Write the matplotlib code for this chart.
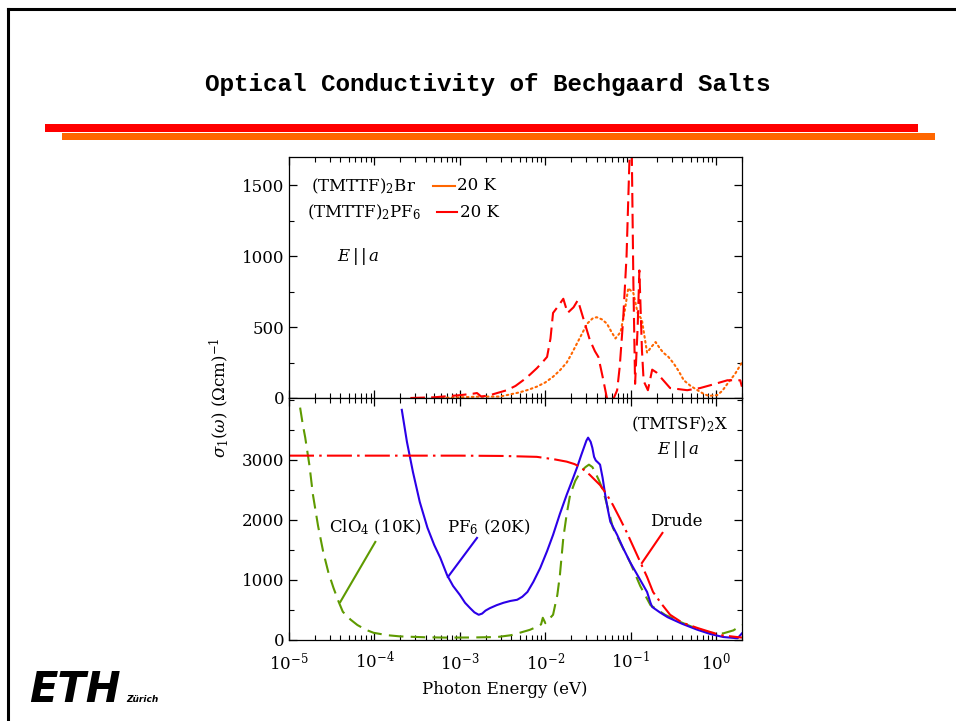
import numpy as np
import matplotlib
matplotlib.use("Agg")
import matplotlib.pyplot as plt
from matplotlib.lines import Line2D
from matplotlib.patches import Rectangle
from matplotlib.ticker import LogLocator, MultipleLocator, NullFormatter, FixedLocator, FixedFormatter

plt.rcParams['font.family'] = ['DejaVu Serif']
plt.rcParams['mathtext.fontset'] = 'dejavuserif'

# ---------------- data (log10 photon energy in eV, conductivity) ----------------
# Top panel: (TMTTF)2PF6 20 K (red dashed)
pf6_top_logx = [-3.58, -3.30, -3.00, -2.85, -2.80, -2.75, -2.65, -2.45, -2.35, -2.26,
                -2.18, -2.10, -2.03, -1.98, -1.94, -1.91, -1.86, -1.79, -1.74, -1.67,
                -1.62, -1.56, -1.52, -1.48, -1.42, -1.38, -1.33, -1.28, -1.22, -1.16,
                -1.13, -1.09, -1.05, -1.01, -0.99, -0.97, -0.95, -0.92, -0.90, -0.87,
                -0.85, -0.80, -0.75, -0.70, -0.62, -0.54, -0.34, -0.19, -0.07, 0.13,
                0.28, 0.30]
pf6_top_sig = [0, 5, 20, 30, 35, 10, 20, 55, 85, 125,
               165, 210, 255, 290, 420, 600, 640, 700, 600, 640,
               690, 570, 490, 410, 330, 290, 150, 0, -30, 55,
               220, 550, 1000, 1800, 1800, 810, 100, 500, 900, 340,
               120, 55, 200, 180, 125, 70, 55, 70, 90, 125,
               125, 80]
# Top panel: (TMTTF)2Br 20 K (orange dotted)
br_logx = [-3.27, -3.00, -2.76, -2.53, -2.30, -2.20, -2.10, -2.00, -1.91, -1.83,
           -1.75, -1.69, -1.63, -1.57, -1.51, -1.45, -1.40, -1.34, -1.28, -1.23,
           -1.18, -1.12, -1.07, -1.03, -0.97, -0.92, -0.87, -0.81, -0.76, -0.71,
           -0.66, -0.62, -0.56, -0.50, -0.44, -0.38, -0.30, -0.22, -0.15, -0.09,
           0.01, 0.07, 0.13, 0.22, 0.30]
br_sig = [0, 5, 10, 10, 40, 58, 80, 110, 150, 195,
          250, 315, 385, 455, 525, 560, 570, 555, 525, 470,
          420, 465, 620, 775, 740, 600, 550, 320, 360, 395,
          350, 320, 290, 245, 190, 125, 85, 55, 30, 15,
          20, 50, 100, 170, 250]

# Bottom panel: (TMTSF)2PF6 20 K (blue solid)
pf6_logx = [-3.68, -3.62, -3.55, -3.47, -3.38, -3.30, -3.23, -3.15, -3.08, -3.00,
            -2.94, -2.88, -2.83, -2.78, -2.74, -2.70, -2.65, -2.57, -2.49, -2.41,
            -2.33, -2.27, -2.21, -2.14, -2.06, -1.98, -1.91, -1.83, -1.75, -1.68,
            -1.63, -1.58, -1.55, -1.52, -1.50, -1.47, -1.45, -1.43, -1.41, -1.38,
            -1.36, -1.33, -1.30, -1.27, -1.24, -1.20, -1.16, -1.09, -1.01, -0.91,
            -0.81, -0.77, -0.75, -0.66, -0.57, -0.40, -0.22, -0.07, 0.08, 0.20,
            0.25, 0.30]
pf6_sig = [3833, 3300, 2800, 2300, 1870, 1580, 1370, 1080, 900, 750,
           620, 530, 460, 420, 440, 490, 530, 580, 620, 650,
           670, 720, 800, 970, 1200, 1480, 1750, 2100, 2420, 2680,
           2870, 3080, 3200, 3320, 3370, 3300, 3200, 3050, 2990, 2950,
           2920, 2700, 2420, 2180, 1970, 1860, 1750, 1530, 1300, 1050,
           800, 620, 550, 460, 380, 270, 170, 100, 50, 35,
           30, 110]
# Bottom panel: (TMTSF)2ClO4 10 K (green dashed)
clo4_logx = [-4.87, -4.84, -4.81, -4.76, -4.72, -4.66, -4.60, -4.54, -4.48, -4.42,
             -4.37, -4.28, -4.20, -4.10, -4.01, -3.85, -3.70, -3.40, -3.15, -2.85,
             -2.56, -2.40, -2.30, -2.18, -2.10, -2.05, -2.03, -2.00, -1.91, -1.86,
             -1.83, -1.79, -1.75, -1.71, -1.65, -1.59, -1.53, -1.49, -1.45, -1.42,
             -1.37, -1.32, -1.26, -1.21, -1.11, -1.01, -0.89, -0.77, -0.60, -0.42,
             -0.25, -0.07, 0.08, 0.20, 0.30]
clo4_sig = [3870, 3600, 3370, 2900, 2420, 1900, 1470, 1130, 870, 640,
            470, 340, 250, 170, 120, 80, 60, 45, 40, 42,
            50, 80, 120, 170, 220, 260, 370, 280, 420, 750,
            1080, 1700, 2100, 2420, 2650, 2800, 2880, 2920, 2880, 2800,
            2650, 2470, 2150, 1870, 1580, 1300, 900, 580, 420, 300,
            200, 120, 110, 160, 250]
# Bottom panel: Drude fit (red dash-dot)
drude_logx = [-5.00, -4.00, -3.00, -2.50, -2.10, -1.90, -1.75, -1.66, -1.59, -1.48,
              -1.36, -1.28, -1.21, -1.13, -1.05, -0.97, -0.89, -0.81, -0.74, -0.64,
              -0.54, -0.40, -0.22, 0.05, 0.30]
drude_sig = [3070, 3070, 3070, 3065, 3050, 3010, 2970, 2930, 2880, 2750,
             2580, 2420, 2250, 2030, 1800, 1550, 1300, 1050, 800, 600,
             420, 290, 200, 80, 40]

# annotation pointer lines (log10 x, sigma)
clo4_ptr_logx = [-3.99, -4.40]
clo4_ptr_sig = [1633, 633]
pf6_ptr_logx = [-2.80, -3.14]
pf6_ptr_sig = [1700, 1050]
drude_ptr_logx = [-0.63, -0.87]
drude_ptr_sig = [1783, 1283]

xtick_vals = [1e-5, 1e-4, 1e-3, 1e-2, 1e-1, 1e0]
xtick_labels = ['$10^{-5}$', '$10^{-4}$', '$10^{-3}$', '$10^{-2}$', '$10^{-1}$', '$10^{0}$']

# ---------------- figure ----------------
W, H = 956, 721
fig = plt.figure(figsize=(W / 100, H / 100), dpi=100)

def fx(px):
    return px / W

def fy(py):
    return 1 - py / H

RED = '#FF0000'
ORANGE = '#FF6600'
BLUE = '#2B00E8'
GREEN = '#5E9A00'

# page frame
fig.add_artist(Line2D([fx(8), fx(956)], [fy(9), fy(9)], color='black', lw=2.2))
fig.add_artist(Line2D([fx(8), fx(8)], [fy(9), fy(721)], color='black', lw=2.2))

# title
fig.text(fx(488), fy(84), 'Optical Conductivity of Bechgaard Salts',
         family='Liberation Mono', weight='bold', fontsize=17.5,
         ha='center', va='center')

# bars
fig.add_artist(Rectangle((fx(45), fy(131.5)), fx(918 - 45), (131.5 - 124) / H,
                         transform=fig.transFigure, color=RED, lw=0))
fig.add_artist(Rectangle((fx(62), fy(139.5)), fx(935 - 62), (139.5 - 132.5) / H,
                         transform=fig.transFigure, color=ORANGE, lw=0))

# ETH logo
fig.text(fx(29), fy(702), 'ETH', family='DejaVu Sans', weight='heavy', style='italic',
         fontsize=30, ha='left', va='baseline')
fig.text(fx(126), fy(702), 'Zürich', family='DejaVu Sans', weight='bold', style='italic',
         fontsize=6.5, ha='left', va='baseline')

left, right = fx(289), fx(742)
ax1 = fig.add_axes([left, fy(398), right - left, (398 - 157) / H])
ax2 = fig.add_axes([left, fy(640), right - left, (640 - 398) / H])

for ax in (ax1, ax2):
    ax.set_xscale('log')
    ax.set_xlim(1e-5, 2.0)
    ax.xaxis.set_major_locator(FixedLocator(xtick_vals))
    ax.xaxis.set_minor_locator(LogLocator(base=10, subs=np.arange(2, 10), numticks=20))
    ax.xaxis.set_minor_formatter(NullFormatter())
    ax.tick_params(which='both', direction='in', top=True, right=True, labelsize=12)
    ax.tick_params(which='major', length=6, width=0.9)
    ax.tick_params(which='minor', length=3.5, width=0.8)
    ax.tick_params(axis='x', pad=8)
    for s in ax.spines.values():
        s.set_linewidth(0.9)

ax1.set_ylim(0, 1700)
ax1.yaxis.set_major_locator(MultipleLocator(500))
ax1.yaxis.set_minor_locator(MultipleLocator(250))
ax1.xaxis.set_major_formatter(NullFormatter())

ax2.set_ylim(0, 4030)
ax2.yaxis.set_major_locator(FixedLocator([0, 1000, 2000, 3000]))
ax2.yaxis.set_minor_locator(MultipleLocator(500))
ax2.xaxis.set_major_formatter(FixedFormatter(xtick_labels))

def X(lx):
    return 10 ** np.asarray(lx, dtype=float)

# top panel curves
ax1.plot(X(br_logx), br_sig, color=ORANGE, lw=1.5, ls=(0, (0.8, 1.6)), dash_capstyle='round')
ax1.plot(X(pf6_top_logx), pf6_top_sig, color=RED, lw=1.5, ls=(0, (7, 3)))

# top legend/text
ax1.text(0.165, 0.88, '(TMTTF)$_2$Br', transform=ax1.transAxes, ha='center', va='center', fontsize=12)
ax1.text(0.165, 0.77, '(TMTTF)$_2$PF$_6$', transform=ax1.transAxes, ha='center', va='center', fontsize=12)
ax1.add_line(Line2D([(433 - 289) / 453, (455 - 289) / 453], [0.88, 0.88], transform=ax1.transAxes,
                    color=ORANGE, lw=1.5))
ax1.add_line(Line2D([(437 - 289) / 453, (457 - 289) / 453], [0.77, 0.77], transform=ax1.transAxes,
                    color=RED, lw=1.5))
ax1.text((457 - 289) / 453, 0.88, '20 K', transform=ax1.transAxes, ha='left', va='center', fontsize=12)
ax1.text((460 - 289) / 453, 0.77, '20 K', transform=ax1.transAxes, ha='left', va='center', fontsize=12)
ax1.text(10 ** -4.19, 998, r'$E\,|\,|\,a$', ha='center', va='center', fontsize=12)

# bottom panel curves
ax2.plot(X(clo4_logx), clo4_sig, color=GREEN, lw=1.5, ls=(0, (7, 3.5)))
ax2.plot(X(pf6_logx), pf6_sig, color=BLUE, lw=1.5)
ax2.plot(X(drude_logx), drude_sig, color=RED, lw=1.5, ls=(0, (12, 2.5, 1.2, 2.5)))

# pointers
ax2.plot(X(clo4_ptr_logx), clo4_ptr_sig, color=GREEN, lw=1.5)
ax2.plot(X(pf6_ptr_logx), pf6_ptr_sig, color=BLUE, lw=1.5)
ax2.plot(X(drude_ptr_logx), drude_ptr_sig, color=RED, lw=1.5)

ax2.text(10 ** -3.99, 1870, 'ClO$_4$ (10K)', ha='center', va='center', fontsize=12)
ax2.text(10 ** -2.67, 1880, 'PF$_6$ (20K)', ha='center', va='center', fontsize=12)
ax2.text(10 ** -0.47, 1970, 'Drude', ha='center', va='center', fontsize=12)
ax2.text(10 ** 0.14, 3600, '(TMTSF)$_2$X', ha='right', va='center', fontsize=12)
ax2.text(10 ** -0.45, 3170, r'$E\,|\,|\,a$', ha='center', va='center', fontsize=12)

# axis labels
fig.text(fx(219), fy(398), r'$\sigma_1(\omega)$ $(\Omega$cm$)^{-1}$', rotation=90,
         ha='center', va='center', fontsize=12)
fig.text(fx(505), fy(689), 'Photon Energy (eV)', ha='center', va='center', fontsize=12)

fig.savefig('out.png', dpi=100)
